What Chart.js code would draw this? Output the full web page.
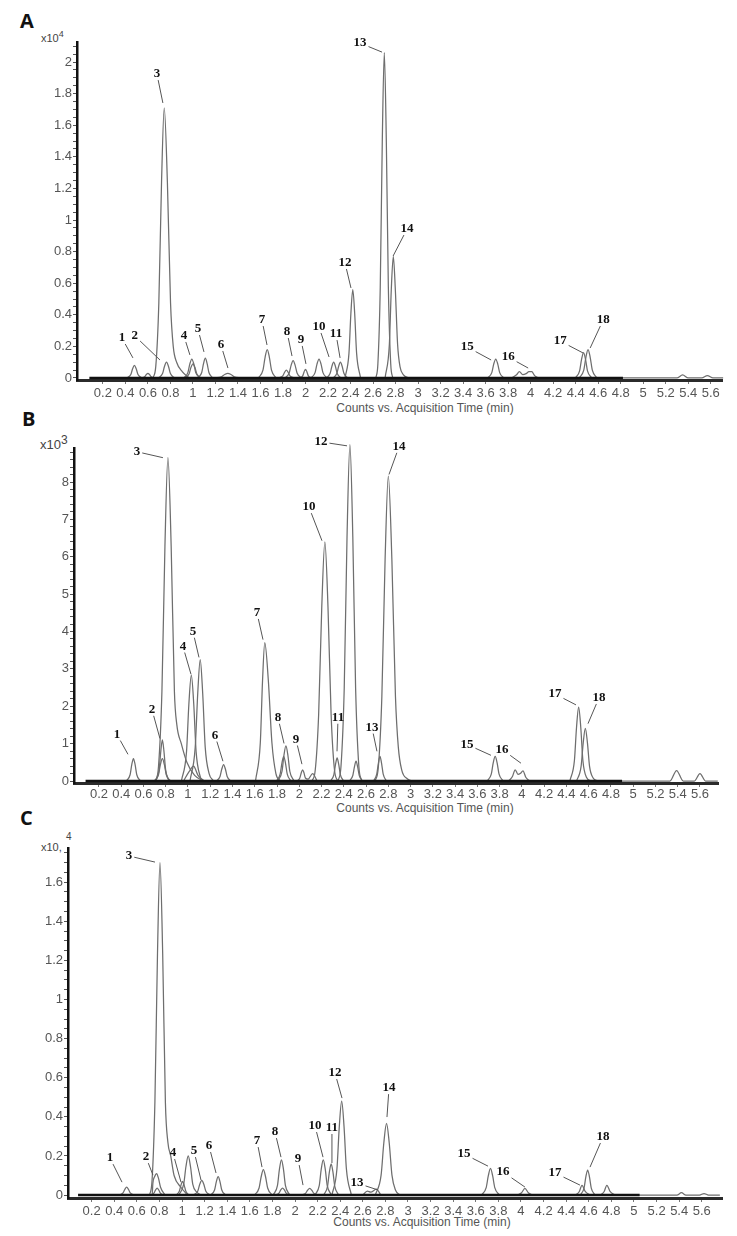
<!DOCTYPE html>
<html>
<head>
<meta charset="utf-8">
<script src="https://cdn.jsdelivr.net/npm/chart.js@4.4.1/dist/chart.umd.min.js"></script>
<style>
  html, body { margin: 0; padding: 0; background: #fff; }
  body { width: 737px; height: 1236px; position: relative; overflow: hidden; font-family: "Liberation Sans", Arial, sans-serif; }
  canvas { position: absolute; left: 0; }
  .panel { position: absolute; font: bold 20px/20px "Open Sans", "Liberation Sans", sans-serif; color: #111; }
  .mult { position: absolute; font: 11px/11px "Liberation Sans", Arial, sans-serif; color: #444; white-space: nowrap; }
  .mult .ex { position: relative; top: -5px; font-size: 9px; }
  .xtitle { position: absolute; width: 240px; text-align: center; font: 12px/14px "Liberation Sans", Arial, sans-serif; color: #555; }
</style>
</head>
<body>
<div class="panel" style="left:20px;top:11px">A</div>
<div class="mult" style="left:41px;top:33px">x10<span class="ex">4</span></div>
<div class="xtitle" style="left:305px;top:401px">Counts vs. Acquisition Time (min)</div>

<div class="panel" style="left:22px;top:409px">B</div>
<div class="mult" style="left:40px;top:438px;font-size:13px;line-height:13px">x10<span class="ex" style="font-size:12px;top:-5px">3</span></div>
<div class="xtitle" style="left:305px;top:801px">Counts vs. Acquisition Time (min)</div>

<div class="panel" style="left:20px;top:808px">C</div>
<div class="mult" style="left:41px;top:842px">x10,</div>
<div class="mult" style="left:66px;top:831px;font-size:10px">4</div>
<div class="xtitle" style="left:302px;top:1215px">Counts vs. Acquisition Time (min)</div>

<canvas id="chartA"></canvas>
<canvas id="chartB"></canvas>
<canvas id="chartC"></canvas>

<script>
// ---- shared ----
const xTickValues = [0.2, 0.4, 0.6, 0.8, 1, 1.2, 1.4, 1.6, 1.8, 2, 2.2, 2.4, 2.6, 2.8, 3,
  3.2, 3.4, 3.6, 3.8, 4, 4.2, 4.4, 4.6, 4.8, 5, 5.2, 5.4, 5.6];
const peakNames = ['1','2','3','4','5','6','7','8','9','10','11','12','13','14','15','16','17','18'];

// ---- panel A (counts x10^4), [time, counts] ----
const baseA = [[0.08,0],[4.82,0]];
const tracesA = [
  [[.414,0],[.448,.022],[.464,.058],[.48,.08],[.496,.058],[.512,.022],[.546,0]],
  [[.541,0],[.571,.008],[.586,.022],[.60,.03],[.614,.022],[.629,.008],[.659,0]],
  [[.692,0],[.73,.028],[.747,.073],[.765,.10],[.783,.073],[.80,.028],[.838,0]],
  [[.645,0],[.67,.075],[.697,.475],[.721,1.24],[.745,1.71],[.773,1.24],[.801,.475],[.825,.2],[.855,.1],[.905,.04],[.965,0]],
  [[.917,0],[.955,.034],[.972,.088],[.99,.12],[1.008,.088],[1.025,.034],[1.063,0]],
  [[.927,0],[.965,.025],[.982,.066],[1.00,.09],[1.018,.066],[1.035,.025],[1.073,0]],
  [[1.044,0],[1.078,.035],[1.094,.091],[1.11,.125],[1.126,.091],[1.142,.035],[1.176,0]],
  [[1.195,0],[1.254,.008],[1.282,.022],[1.31,.03],[1.338,.022],[1.366,.008],[1.425,0]],
  [[1.581,0],[1.622,.05],[1.641,.131],[1.66,.18],[1.679,.131],[1.698,.05],[1.739,0]],
  [[1.764,0],[1.798,.014],[1.814,.036],[1.83,.05],[1.846,.036],[1.862,.014],[1.896,0]],
  [[1.817,0],[1.855,.031],[1.872,.08],[1.89,.11],[1.908,.08],[1.925,.031],[1.963,0]],
  [[1.95,0],[1.976,.015],[1.988,.04],[2.0,.055],[2.012,.04],[2.024,.015],[2.05,0]],
  [[2.047,0],[2.085,.034],[2.102,.088],[2.12,.12],[2.138,.088],[2.155,.034],[2.193,0]],
  [[2.184,0],[2.218,.028],[2.234,.073],[2.25,.10],[2.266,.073],[2.282,.028],[2.316,0]],
  [[2.244,0],[2.278,.028],[2.294,.073],[2.31,.10],[2.326,.073],[2.342,.028],[2.376,0]],
  [[2.351,0],[2.386,.156],[2.403,.407],[2.42,.56],[2.437,.407],[2.454,.156],[2.489,0]],
  [[2.625,0],[2.643,.09],[2.664,.573],[2.682,1.496],[2.70,2.06],[2.718,1.496],[2.736,.573],[2.757,.09],[2.775,0]],
  [[2.707,0],[2.745,.214],[2.762,.559],[2.78,.77],[2.798,.559],[2.818,.214],[2.84,.07],[2.87,.02],[2.92,0]],
  [[3.617,0],[3.655,.034],[3.672,.088],[3.69,.12],[3.708,.088],[3.725,.034],[3.763,0]],
  [[3.83,0],[3.875,.02],[3.90,.04],[3.93,.022],[3.96,.028],[3.985,.04],[4.01,.04],[4.035,.015],[4.07,0]],
  [[4.397,0],[4.435,.045],[4.452,.116],[4.47,.16],[4.488,.116],[4.505,.045],[4.543,0]],
  [[4.431,0],[4.472,.05],[4.491,.131],[4.51,.18],[4.529,.131],[4.548,.05],[4.589,0]],
  [[4.60,0],[5.30,0],[5.35,.02],[5.40,0],[5.52,0],[5.57,.015],[5.62,0],[5.71,0]]
];
// label text position and leader tip, [time, counts]
const labelPosA = [[0.369,0.253],[0.484,0.266],[0.680,1.924],[0.920,0.266],[1.044,0.310],[1.249,0.209],
  [1.613,0.367],[1.836,0.291],[1.960,0.241],[2.120,0.323],[2.271,0.278],[2.351,0.728],
  [2.484,2.120],[2.902,0.943],[3.436,0.196],[3.800,0.133],[4.262,0.234],[4.644,0.367]];
const labelTipA = [[0.467,0.127],[0.707,0.114],[0.733,1.741],[0.973,0.146],[1.098,0.165],[1.311,0.063],
  [1.658,0.209],[1.880,0.139],[2.004,0.089],[2.209,0.133],[2.307,0.127],[2.404,0.570],
  [2.680,2.063],[2.778,0.772],[3.649,0.114],[3.978,0.063],[4.467,0.158],[4.529,0.190]];

// ---- panel B (counts x10^3) ----
const baseB = [[0.08,0],[4.9,0]];
const tracesB = [
  [[.447,0],[.48,.167],[.495,.436],[.51,.6],[.525,.436],[.54,.167],[.573,0]],
  [[.711,0],[.741,.306],[.756,.8],[.77,1.1],[.784,.8],[.799,.306],[.829,0]],
  [[.697,0],[.735,.167],[.752,.436],[.77,.6],[.788,.436],[.805,.167],[.843,0]],
  [[.71,0],[.735,.38],[.766,2.40],[.793,6.28],[.82,8.65],[.849,6.28],[.878,2.40],[.90,1.5],[.94,1.0],[.99,.5],[1.06,.15],[1.14,0]],
  [[.941,0],[.987,.787],[1.008,2.055],[1.03,2.83],[1.052,2.055],[1.073,.787],[1.119,0]],
  [[.96,0],[1.01,.25],[1.05,.4],[1.09,.15],[1.15,0]],
  [[1.018,0],[1.065,.9],[1.088,2.36],[1.11,3.25],[1.132,2.36],[1.155,.9],[1.19,.2],[1.23,0]],
  [[1.254,0],[1.288,.122],[1.304,.32],[1.32,.44],[1.336,.32],[1.352,.122],[1.386,0]],
  [[1.607,0],[1.65,1.03],[1.67,2.69],[1.69,3.7],[1.722,2.69],[1.754,1.03],[1.79,.2],[1.83,0]],
  [[1.794,0],[1.828,.184],[1.844,.479],[1.86,.66],[1.876,.479],[1.892,.184],[1.926,0]],
  [[1.807,0],[1.845,.261],[1.862,.682],[1.88,.94],[1.898,.682],[1.915,.261],[1.953,0]],
  [[1.98,0],[2.005,.08],[2.018,.22],[2.03,.3],[2.042,.22],[2.055,.08],[2.08,.05],[2.12,.2],[2.16,0]],
  [[2.114,0],[2.143,.28],[2.174,1.78],[2.202,4.65],[2.23,6.4],[2.258,4.65],[2.286,1.78],[2.317,.28],[2.346,0]],
  [[2.281,0],[2.311,.172],[2.326,.45],[2.34,.62],[2.354,.45],[2.369,.172],[2.399,0]],
  [[2.349,0],[2.375,.40],[2.404,2.50],[2.429,6.53],[2.455,9.0],[2.481,6.53],[2.506,2.50],[2.535,.40],[2.561,0]],
  [[2.451,0],[2.481,.147],[2.496,.385],[2.51,.53],[2.524,.385],[2.539,.147],[2.569,0]],
  [[2.666,0],[2.696,.183],[2.711,.479],[2.725,.66],[2.739,.479],[2.754,.183],[2.784,0]],
  [[2.681,0],[2.71,.36],[2.742,2.27],[2.771,5.92],[2.80,8.16],[2.832,5.92],[2.864,2.27],[2.89,.9],[2.92,.3],[2.97,.06],[3.02,0]],
  [[3.687,0],[3.725,.183],[3.742,.479],[3.76,.66],[3.778,.479],[3.795,.183],[3.833,0]],
  [[3.88,0],[3.915,.12],[3.94,.3],[3.965,.18],[3.985,.2],[4.01,.27],[4.035,.1],[4.07,0]],
  [[4.431,0],[4.472,.55],[4.491,1.44],[4.51,1.98],[4.529,1.44],[4.548,.55],[4.58,.1],[4.62,0]],
  [[4.491,0],[4.532,.39],[4.551,1.02],[4.57,1.41],[4.589,1.02],[4.608,.39],[4.64,.08],[4.68,0]],
  [[4.70,0],[5.33,0],[5.39,.28],[5.45,0],[5.55,0],[5.60,.2],[5.65,0],[5.76,0]]
];
const labelPosB = [[0.362,1.243],[0.677,1.905],[0.542,8.810],[0.955,3.598],[1.045,3.995],[1.243,1.217],
  [1.620,4.497],[1.809,1.693],[1.970,1.111],[2.087,7.328],[2.348,1.693],[2.195,9.074],
  [2.653,1.429],[2.896,8.942],[3.506,0.979],[3.821,0.847],[4.297,2.328],[4.692,2.222]];
const labelTipB = [[0.461,0.714],[0.748,1.138],[0.775,8.651],[1.027,2.857],[1.099,3.307],[1.314,0.529],
  [1.674,3.783],[1.863,1.005],[2.024,0.450],[2.204,6.429],[2.339,0.794],[2.429,8.968],
  [2.698,0.794],[2.806,8.201],[3.722,0.688],[3.992,0.476],[4.486,2.037],[4.594,1.534]];

// ---- panel C (counts x10^4) ----
const baseC = [[0.08,0],[5.05,0]];
const tracesC = [
  [[.444,0],[.478,.011],[.494,.029],[.51,.04],[.526,.029],[.542,.011],[.576,0]],
  [[.70,0],[.736,.003],[.742,.06],[.758,.095],[.775,.11],[.792,.085],[.81,.04],[.85,0]],
  [[.72,0],[.751,.01],[.766,.026],[.78,.035],[.794,.026],[.809,.01],[.84,0]],
  [[.713,0],[.735,.075],[.76,.473],[.783,1.234],[.805,1.70],[.829,1.234],[.853,.473],[.875,.27],[.90,.2],[.93,.1],[.99,.04],[1.05,0]],
  [[.946,0],[.976,.019],[.991,.051],[1.005,.07],[1.019,.051],[1.034,.019],[1.064,0]],
  [[.972,0],[1.015,.056],[1.035,.146],[1.055,.2],[1.075,.146],[1.095,.056],[1.13,.015],[1.17,0]],
  [[1.102,0],[1.14,.021],[1.157,.055],[1.175,.075],[1.193,.055],[1.21,.021],[1.248,0]],
  [[1.254,0],[1.288,.026],[1.304,.069],[1.32,.094],[1.336,.069],[1.352,.026],[1.386,0]],
  [[1.641,0],[1.682,.036],[1.701,.095],[1.72,.13],[1.739,.095],[1.758,.036],[1.799,0]],
  [[1.807,0],[1.845,.05],[1.862,.131],[1.88,.18],[1.898,.131],[1.915,.05],[1.953,0]],
  [[1.824,0],[1.858,.01],[1.874,.026],[1.89,.035],[1.906,.026],[1.922,.01],[1.956,0]],
  [[2.057,0],[2.095,.01],[2.112,.025],[2.13,.034],[2.148,.025],[2.165,.01],[2.203,0]],
  [[2.177,0],[2.215,.05],[2.232,.131],[2.25,.18],[2.268,.131],[2.285,.05],[2.323,0]],
  [[2.254,0],[2.288,.045],[2.304,.117],[2.32,.16],[2.336,.117],[2.352,.045],[2.386,0]],
  [[2.327,0],[2.371,.133],[2.392,.35],[2.413,.48],[2.434,.35],[2.455,.133],[2.499,0]],
  [[2.60,0],[2.64,.02],[2.67,.015],[2.72,.03],[2.76,0]],
  [[2.711,0],[2.762,.102],[2.786,.266],[2.81,.367],[2.834,.266],[2.858,.102],[2.89,.025],[2.93,0]],
  [[3.651,0],[3.692,.038],[3.711,.099],[3.73,.136],[3.749,.099],[3.768,.038],[3.809,0]],
  [[3.97,0],[4.005,.012],[4.035,.034],[4.065,.012],[4.10,0]],
  [[4.48,0],[4.515,.017],[4.54,.05],[4.57,.017],[4.61,0]],
  [[4.524,0],[4.558,.036],[4.574,.093],[4.59,.128],[4.606,.093],[4.622,.036],[4.656,0]],
  [[4.70,0],[4.735,.017],[4.76,.05],[4.79,.017],[4.83,0]],
  [[4.90,0],[5.38,0],[5.42,.012],[5.46,0],[5.58,0],[5.62,.008],[5.66,0],[5.76,0]]
];
const labelPosC = [[0.363,0.189],[0.681,0.194],[0.531,1.734],[0.920,0.215],[1.106,0.225],[1.239,0.251],
  [1.664,0.276],[1.823,0.322],[2.027,0.184],[2.177,0.353],[2.327,0.343],[2.354,0.624],
  [2.549,0.061],[2.832,0.547],[3.496,0.210],[3.841,0.118],[4.301,0.113],[4.726,0.297]];
const labelTipC = [[0.469,0.066],[0.743,0.102],[0.761,1.703],[0.991,0.066],[1.168,0.077],[1.301,0.113],
  [1.708,0.143],[1.876,0.194],[2.071,0.051],[2.248,0.194],[2.327,0.164],[2.416,0.496],
  [2.735,0.026],[2.814,0.399],[3.708,0.148],[4.035,0.041],[4.522,0.051],[4.611,0.143]];

// ---- layout of each panel ----
const panels = [
  { id: 'chartA', top: 0,   padTop: 42, height: 415, left: 77, right: 722, tickPad: 2,
    xMin: -0.03, xMax: 5.70, yMin: -0.0127, yMax: 2.127, yTop: 2.1, minor: 0.05, major: 0.2,
    base: baseA, traces: tracesA, pos: labelPosA, tips: labelTipA },
  { id: 'chartB', top: 410, padTop: 38, height: 408, left: 74, right: 718, tickPad: 0,
    xMin: -0.024, xMax: 5.762, yMin: -0.0535, yMax: 8.91, yTop: 8.8, minor: 0.2, major: 1,
    base: baseB, traces: tracesB, pos: labelPosB, tips: labelTipB },
  { id: 'chartC', top: 815, padTop: 33, height: 418, left: 68, right: 722, tickPad: 2,
    xMin: -0.009, xMax: 5.779, yMin: -0.015, yMax: 1.775, yTop: 1.75, minor: 0.05, major: 0.2,
    base: baseC, traces: tracesC, pos: labelPosC, tips: labelTipC }
];

const tickFont = { family: '"Liberation Sans Narrow", "Liberation Sans", Arial, sans-serif', size: 13 };
const toXY = arr => arr.map(([x, y]) => ({ x, y }));

// peak numbers with leader lines
function labelPlugin(p) {
  return {
    id: 'peakLabels',
    afterDatasetsDraw(chart) {
      const { ctx } = chart;
      const xs = chart.scales.x, ys = chart.scales.y;
      ctx.save();
      ctx.font = 'bold 13px "Liberation Serif", "Times New Roman", serif';
      ctx.textAlign = 'center';
      ctx.textBaseline = 'middle';
      peakNames.forEach((txt, i) => {
        const lx = xs.getPixelForValue(p.pos[i][0]), ly = ys.getPixelForValue(p.pos[i][1]);
        const tx = xs.getPixelForValue(p.tips[i][0]), ty = ys.getPixelForValue(p.tips[i][1]);
        ctx.fillStyle = '#111';
        ctx.fillText(txt, lx, ly);
        const dx = tx - lx, dy = ty - ly, len = Math.hypot(dx, dy);
        const ux = dx / len, uy = dy / len;
        const hw = ctx.measureText(txt).width / 2 + 2, hh = 6;
        const r = Math.min(ux ? hw / Math.abs(ux) : 1e9, uy ? hh / Math.abs(uy) : 1e9);
        ctx.strokeStyle = '#555';
        ctx.lineWidth = 1;
        ctx.beginPath();
        ctx.moveTo(lx + ux * r, ly + uy * r);
        ctx.lineTo(tx, ty);
        ctx.stroke();
      });
      ctx.restore();
    }
  };
}

function makeChart(p) {
  const canvas = document.getElementById(p.id);
  canvas.style.top = p.top + 'px';
  canvas.width = 737;
  canvas.height = p.height;

  // baseline first so it sits on top of the peak feet
  const datasets = [{
    data: toXY(p.base), borderColor: '#111', borderWidth: 2.4, clip: false
  }].concat(p.traces.map(tr => ({
    data: toXY(tr), borderColor: '#6e6e6e', borderWidth: 1.25, clip: false
  })));

  return new Chart(canvas, {
    type: 'line',
    data: { datasets },
    options: {
      responsive: false,
      animation: false,
      devicePixelRatio: 1,
      layout: { padding: { top: p.padTop, right: 737 - p.right, left: 0, bottom: 0 } },
      elements: {
        point: { radius: 0 },
        line: { cubicInterpolationMode: 'monotone', fill: false }
      },
      plugins: { legend: { display: false }, tooltip: { enabled: false } },
      scales: {
        x: {
          type: 'linear', min: p.xMin, max: p.xMax,
          afterFit: s => { s.height = 35; },
          afterBuildTicks: s => { s.ticks = xTickValues.map(v => ({ value: v })); },
          grid: { drawOnChartArea: false, drawTicks: true, tickLength: 4, color: '#777' },
          border: { color: '#2b2b2b', width: 3 },
          ticks: { color: '#555', font: tickFont, padding: p.tickPad, maxRotation: 0, autoSkip: false,
                   callback: v => String(+v.toFixed(1)) }
        },
        y: {
          type: 'linear', min: p.yMin, max: p.yMax,
          afterFit: s => { s.width = p.left; },
          afterBuildTicks: s => {
            const t = [];
            for (let v = 0; v <= p.yTop + 1e-9; v += p.minor) t.push({ value: +v.toFixed(3) });
            s.ticks = t;
          },
          grid: { drawOnChartArea: false, drawTicks: true, tickLength: 4, color: '#555' },
          border: { color: '#111', width: 2.5 },
          ticks: { color: '#555', font: tickFont, padding: 1, autoSkip: false,
                   callback: v => {
                     const k = v / p.major;
                     return Math.abs(k - Math.round(k)) < 1e-6 ? String(+v.toFixed(2)) : '';
                   } }
        }
      }
    },
    plugins: [labelPlugin(p)]
  });
}

panels.forEach(makeChart);
</script>
</body>
</html>
